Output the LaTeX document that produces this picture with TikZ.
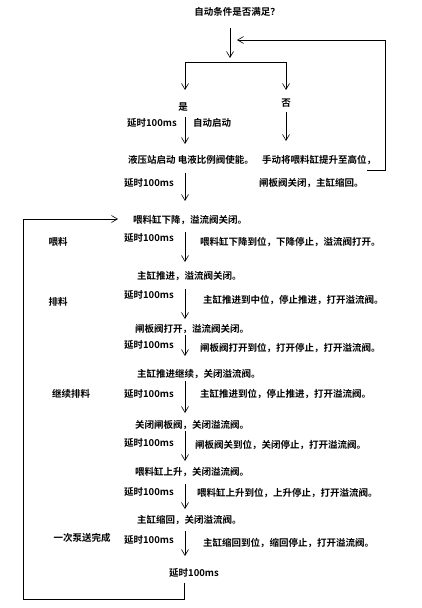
\documentclass[tikz,border=0pt]{standalone}
\usepackage{fontspec}
\setmainfont{Noto Sans CJK SC}[BoldFont={Noto Sans CJK SC Bold}]
\usetikzlibrary{arrows.meta}
\usetikzlibrary{positioning}

\begin{document}
\begin{tikzpicture}[x=1pt, y=-1pt,
    txt/.style={font=\fontsize{9.5}{10}\selectfont\bfseries, inner sep=0pt}, % Style for all texts
    flow/.style={-{Straight Barb[length=6pt,width=7pt]}, line width=0.6pt}, % Arrows
    wire/.style={line width=0.6pt} % Plain lines
]
\useasboundingbox (0,0) rectangle (422,608);

% Question and branch
\node[txt] (ask) at (237,12) {自动条件是否满足？};
\coordinate (askA) at (230,28);
\coordinate (askB) at (230,58);
\draw[flow] (askA) -- (askB);

\coordinate (yesTop) at (185,62);
\coordinate (noTop) at (286,62);
\coordinate (yesTip) at (185,90);
\coordinate (noTip) at (286,90);
\draw[wire] (yesTop) -- (noTop);
\draw[flow] (yesTop) -- (yesTip);
\draw[flow] (noTop) -- (noTip);

\node[txt] (yes) at (183,107) {是};
\node[txt] (no) at (286,103) {否};

% Yes branch
\node[txt, anchor=east] (dStart) at (177,123) {延时100ms};
\node[txt, anchor=west] (auto) at (193,123) {自动启动};
\coordinate (yesA) at (185,117);
\coordinate (yesB) at (185,144);
\draw[flow] (yesA) -- (yesB);
\node[txt, anchor=west] (pump) at (128,160) {液压站启动 电液比例阀使能。};

% No branch
\coordinate (noA) at (286,112);
\coordinate (noB) at (286,141);
\draw[flow] (noA) -- (noB);
\node[txt, anchor=west] (hand) at (262,160) {手动将喂料缸提升至高位，};
\node[txt, anchor=west] (hand2) at (259,183) {闸板阀关闭，主缸缩回。};

% Back to the question
\coordinate (fbA) at (367,170);
\coordinate (fbB) at (385,170);
\coordinate (fbC) at (385,40);
\coordinate (fbTip) at (237,40);
\draw[flow] (fbA) -- (fbB) -- (fbC) -- (fbTip);

% Into the cycle
\node[txt, anchor=east] (d0) at (174,183) {延时100ms};
\coordinate (a0) at (185,173);
\coordinate (b0) at (185,201);
\draw[flow] (a0) -- (b0);

% --- Cycle steps ---
\node[txt, anchor=west] (s1) at (133,220) {喂料缸下降，溢流阀关闭。};
\node[txt, anchor=east] (d1) at (174,238) {延时100ms};
\node[txt, anchor=west] (r1) at (200,242) {喂料缸下降到位，下降停止，溢流阀打开。};
\coordinate (a1) at (185,232);
\coordinate (b1) at (185,262);
\draw[flow] (a1) -- (b1);

\node[txt, anchor=west] (s2) at (137,276) {主缸推进，溢流阀关闭。};
\node[txt, anchor=east] (d2) at (174,295) {延时100ms};
\node[txt, anchor=west] (r2) at (203,300) {主缸推进到中位，停止推进，打开溢流阀。};
\coordinate (a2) at (185,289);
\coordinate (b2) at (185,319);
\draw[flow] (a2) -- (b2);

\node[txt, anchor=west] (s3) at (135,329) {闸板阀打开，溢流阀关闭。};
\node[txt, anchor=east] (d3) at (174,345) {延时100ms};
\node[txt, anchor=west] (r3) at (200,348) {闸板阀打开到位，打开停止，打开溢流阀。};
\coordinate (a3) at (185,335);
\coordinate (b3) at (185,356);
\draw[flow] (a3) -- (b3);

\node[txt, anchor=west] (s4) at (137,374) {主缸推进继续，关闭溢流阀。};
\node[txt, anchor=east] (d4) at (174,394) {延时100ms};
\node[txt, anchor=west] (r4) at (200,394) {主缸推进到位，停止推进，打开溢流阀。};
\coordinate (a4) at (185,381);
\coordinate (b4) at (185,413);
\draw[flow] (a4) -- (b4);

\node[txt, anchor=west] (s5) at (135,425) {关闭闸板阀，关闭溢流阀。};
\node[txt, anchor=east] (d5) at (174,443) {延时100ms};
\node[txt, anchor=west] (r5) at (195,445) {闸板阀关到位，关闭停止，打开溢流阀。};
\coordinate (a5) at (185,431);
\coordinate (b5) at (185,461);
\draw[flow] (a5) -- (b5);

\node[txt, anchor=west] (s6) at (135,472) {喂料缸上升，关闭溢流阀。};
\node[txt, anchor=east] (d6) at (174,492) {延时100ms};
\node[txt, anchor=west] (r6) at (197,493) {喂料缸上升到位，上升停止，打开溢流阀。};
\coordinate (a6) at (185,484);
\coordinate (b6) at (185,509);
\draw[flow] (a6) -- (b6);

\node[txt, anchor=west] (s7) at (137,520) {主缸缩回，关闭溢流阀。};
\node[txt, anchor=east] (d7) at (174,540) {延时100ms};
\node[txt, anchor=west] (r7) at (203,543) {主缸缩回到位，缩回停止，打开溢流阀。};
\coordinate (a7) at (185,531);
\coordinate (b7) at (185,556);
\draw[flow] (a7) -- (b7);

\node[txt] (dEnd) at (194,573) {延时100ms};

% Phase labels
\node[txt] (feed) at (58,242) {喂料};
\node[txt] (push) at (58,302) {排料};
\node[txt] (pushOn) at (71,394) {继续排料};
\node[txt] (done) at (82,538) {一次泵送完成};

% Loop back
\coordinate (lpA) at (184,583);
\coordinate (lpB) at (184,599);
\coordinate (lpC) at (23,599);
\coordinate (lpD) at (23,219);
\coordinate (lpTip) at (118,219);
\draw[flow] (lpA) -- (lpB) -- (lpC) -- (lpD) -- (lpTip);

\end{tikzpicture}
\end{document}
